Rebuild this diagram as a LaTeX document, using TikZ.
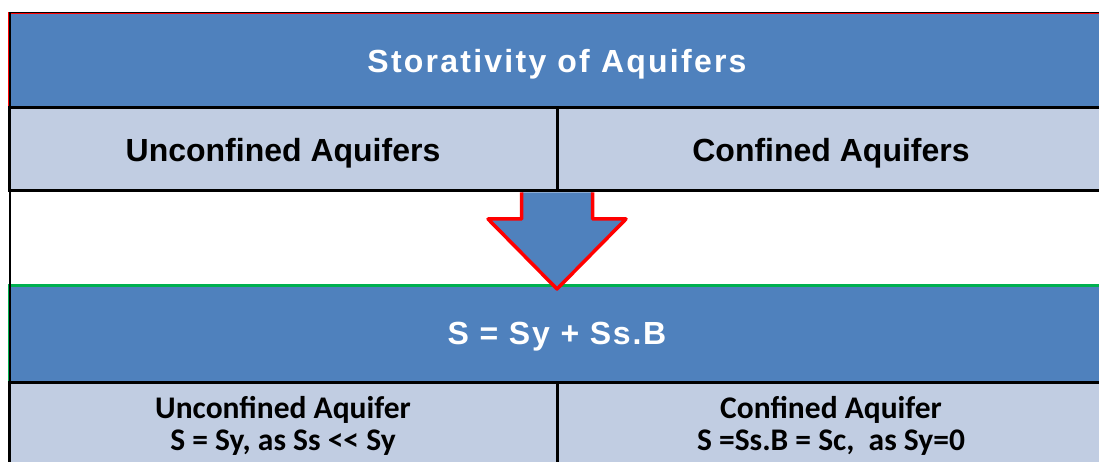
\documentclass[tikz,border=0pt]{standalone}
\usepackage{fontspec}
\setmainfont{Liberation Sans}
\newfontfamily\calfont{Carlito}
\usetikzlibrary{positioning, calc}
\definecolor{hdrblue}{RGB}{79,129,189}
\definecolor{rowblue}{RGB}{193,205,226}
\definecolor{arrred}{RGB}{255,0,0}
\definecolor{lingreen}{RGB}{0,176,80}
\newcommand\hdrfont{\fontsize{32}{38}\selectfont\bfseries\addfontfeature{LetterSpace=7}}
\newcommand\eqnfont{\fontsize{32}{38}\selectfont\bfseries\addfontfeature{LetterSpace=5.5}}
\newcommand\rowfont{\fontsize{32}{38}\selectfont\bfseries}
\newcommand\lowfont{\calfont\fontsize{31.5}{32}\selectfont\bfseries}

\begin{document}
\begin{tikzpicture}[x=1pt, y=-1pt,
  hdr/.style={fill=hdrblue, text=white, minimum width=1096pt, inner sep=0pt, outer sep=0pt, text depth=0pt, font=\hdrfont},
  cell/.style={fill=rowblue, draw=black, line width=3pt, minimum width=548pt, inner sep=0pt, outer sep=0pt, align=center},
  downarrow/.style={draw=arrred, line width=3.5pt, line join=round}
]
  \useasboundingbox (0,0) rectangle (1099,462);
  \clip (0,0) rectangle (1099,462);
  \fill[white] (0,0) rectangle (1099,462);

  % top of the table
  \node[hdr, minimum height=95pt, anchor=north west] (title) at (9,13) {Storativity of Aquifers};
  \draw[arrred, line width=1.5pt] (title.south west) -- (title.north west) -- (title.north east);
  \draw[line width=0.8pt] ($(title.north west)+(0,-1)$) -- ($(title.north east)+(0,-1)$);
  \node[cell, minimum height=83pt, anchor=north west, text depth=0pt, font=\rowfont] (unc) at (title.south west) {Unconfined Aquifers};
  \node[cell, minimum height=83pt, anchor=north west, text depth=0pt, font=\rowfont] (conf) at (unc.north east) {Confined Aquifers};

  % bottom of the table
  \node[hdr, minimum height=97pt, anchor=north west, font=\eqnfont] (eqn) at (9,285) {S = Sy + Ss.B};
  \draw[lingreen, line width=3pt] (eqn.south west) -- (eqn.north west) -- (eqn.north east);
  \node[cell, minimum height=88pt, anchor=north west, font=\lowfont] (lunc) at (eqn.south west) {Unconfined Aquifer\\S = Sy, as Ss << Sy};
  \node[cell, minimum height=88pt, anchor=north west, font=\lowfont] (lconf) at (lunc.north east) {Confined Aquifer\\S =Ss.B = Sc,\ \ as Sy=0};

  % arrow between the two
  \coordinate (top) at ($(unc.south east)+(0,1.5)$);
  \coordinate (tip) at ($(eqn.north)+(0,4)$);
  \fill[hdrblue] ($(top)+(-35.5,0)$) -- ($(top)+(-35.5,26.5)$) -- ($(top)+(-69,26.5)$) -- (tip)
    -- ($(top)+(69,26.5)$) -- ($(top)+(35.5,26.5)$) -- ($(top)+(35.5,0)$) -- cycle;
  \draw[downarrow] ($(top)+(-35.5,0)$) -- ($(top)+(-35.5,26.5)$) -- ($(top)+(-69,26.5)$) -- (tip)
    -- ($(top)+(69,26.5)$) -- ($(top)+(35.5,26.5)$) -- ($(top)+(35.5,0)$);

  % left border
  \draw[line width=2pt] ($(title.north west)+(1,0)$) -- ($(lunc.south west)+(1,0)$);
\end{tikzpicture}
\end{document}
